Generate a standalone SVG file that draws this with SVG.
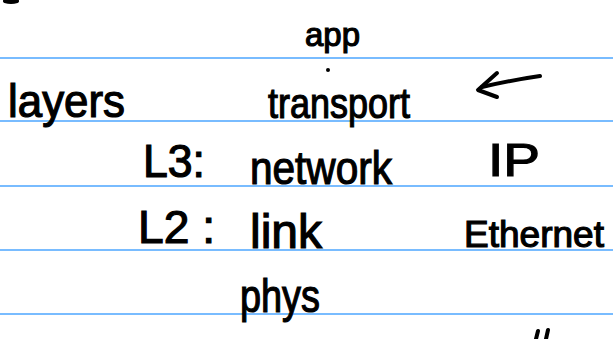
<svg xmlns="http://www.w3.org/2000/svg" width="613" height="339" viewBox="0 0 613 339">
  <style>
    .rule { stroke: #4da6ff; stroke-width: 1.6; }
    .ink { fill: #000; stroke: #000; stroke-width: 1.2; font-family: "Liberation Sans", Arial, sans-serif; }
    .pen { fill: none; stroke: #000; stroke-width: 4; stroke-linecap: round; stroke-linejoin: round; }
  </style>
  <rect width="613" height="339" fill="#fff"/>

  <!-- ruled paper lines -->
  <g id="rules">
    <line class="rule" x1="0" y1="58" x2="613" y2="58"/>
    <line class="rule" x1="0" y1="121" x2="613" y2="121"/>
    <line class="rule" x1="0" y1="186" x2="613" y2="186"/>
    <line class="rule" x1="0" y1="250" x2="613" y2="250"/>
    <line class="rule" x1="0" y1="314" x2="613" y2="314"/>
  </g>

  <!-- stray marks -->
  <path class="pen" d="M5 1 Q11 3 17 1"/>
  <circle cx="328" cy="70" r="2"/>
  <path class="pen" d="M538 331 L536 339 M548 330 L546 339"/>

  <g id="app"><text class="ink" x="305" y="46" font-size="34" textLength="55" lengthAdjust="spacingAndGlyphs">app</text></g>
  <g id="layers"><text class="ink" x="8" y="117" font-size="46" textLength="117" lengthAdjust="spacingAndGlyphs">layers</text></g>
  <g id="transport"><text class="ink" x="268" y="118" font-size="42" textLength="142" lengthAdjust="spacingAndGlyphs">transport</text></g>
  <g id="l3"><text class="ink" x="143" y="177" font-size="46" textLength="62" lengthAdjust="spacingAndGlyphs">L3:</text></g>
  <g id="network"><text class="ink" x="250" y="184" font-size="46" textLength="142" lengthAdjust="spacingAndGlyphs">network</text></g>
  <g id="ip"><text class="ink" x="488" y="176" font-size="46" textLength="52" lengthAdjust="spacingAndGlyphs">IP</text></g>
  <g id="l2"><text class="ink" x="138" y="243" font-size="46" textLength="77" lengthAdjust="spacingAndGlyphs">L2 :</text></g>
  <g id="link"><text class="ink" x="250" y="248" font-size="48" textLength="72" lengthAdjust="spacingAndGlyphs">link</text></g>
  <g id="ethernet"><text class="ink" x="464" y="247" font-size="37" textLength="140" lengthAdjust="spacingAndGlyphs">Ethernet</text></g>
  <g id="phys"><text class="ink" x="240" y="312" font-size="46" textLength="80" lengthAdjust="spacingAndGlyphs">phys</text></g>

  <!-- pointer arrow -->
  <g id="connectors">
    <path class="pen" d="M540 76 Q512 80 482 87"/>
    <path class="pen" d="M497 73 L478 90 L497 97"/>
  </g>
</svg>
